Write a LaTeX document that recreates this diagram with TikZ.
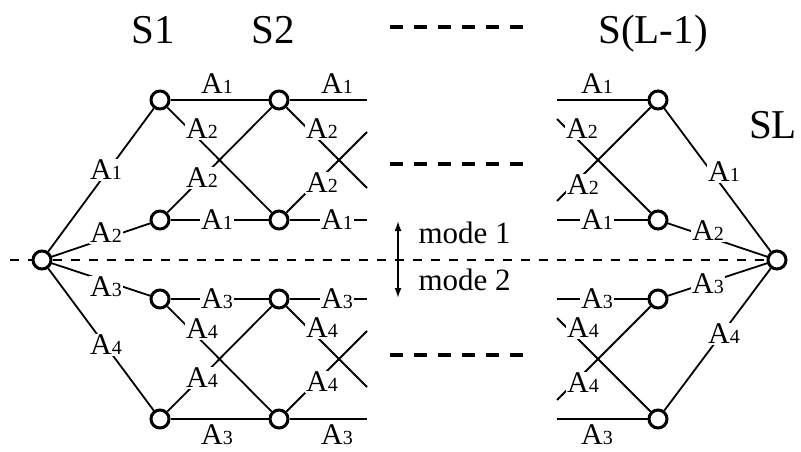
\documentclass[tikz,border=0pt]{standalone}
\usepackage{fontspec}
\setmainfont{Liberation Serif}
\usetikzlibrary{arrows.meta}
\newcommand\Alab[1]{A{\fontsize{20}{20}\selectfont #1}}
\begin{document}
\begin{tikzpicture}[x=1pt,y=-1pt,
  st/.style={circle,draw,line width=3pt,minimum size=18pt,inner sep=0pt,fill=white},
  ed/.style={line width=1.8pt},
  lab/.style={fill=white,inner sep=1.5pt,font=\fontsize{30}{30}\selectfont},
  ttl/.style={anchor=base,font=\fontsize{41}{41}\selectfont},
  mtxt/.style={anchor=base west,font=\fontsize{31}{31}\selectfont},
  gap/.style={line width=4.5pt,dash pattern=on 13pt off 11pt},
  mid/.style={line width=1.5pt,dash pattern=on 9pt off 9pt}]
\useasboundingbox (0,0) rectangle (801,452);

% states
\node[st] (L) at (42,260) {};
\node[st] (a1) at (160,100) {};
\node[st] (a2) at (160,220) {};
\node[st] (a3) at (160,299) {};
\node[st] (a4) at (160,419) {};
\node[st] (b1) at (279,100) {};
\node[st] (b2) at (279,220) {};
\node[st] (b3) at (279,299) {};
\node[st] (b4) at (279,419) {};
\node[st] (c1) at (658,100) {};
\node[st] (c2) at (658,220) {};
\node[st] (c3) at (658,299) {};
\node[st] (c4) at (658,419) {};
\node[st] (R) at (777,260) {};

% stub ends
\coordinate (bh1) at (367,100);
\coordinate (bh2) at (367,220);
\coordinate (bh3) at (367,299);
\coordinate (bh4) at (367,419);
\coordinate (bd1) at (367,188);
\coordinate (bu2) at (367,132);
\coordinate (bd3) at (367,387);
\coordinate (bu4) at (367,331);
\coordinate (ch1) at (557,100);
\coordinate (ch2) at (557,220);
\coordinate (ch3) at (557,299);
\coordinate (ch4) at (557,419);
\coordinate (cd1) at (557,201);
\coordinate (cu2) at (557,119);
\coordinate (cd3) at (557,400);
\coordinate (cu4) at (557,318);
\coordinate (dl) at (10,260);
\coordinate (ma) at (398,221);
\coordinate (mb) at (398,298);

% mode separation line
\draw[mid] (dl) -- (L);
\draw[mid] (L) -- (R);

% edges
\draw[ed] (L) -- (a1);
\draw[ed] (L) -- (a2);
\draw[ed] (L) -- (a3);
\draw[ed] (L) -- (a4);
\draw[ed] (a1) -- (b1);
\draw[ed] (a1) -- (b2);
\draw[ed] (a2) -- (b1);
\draw[ed] (a2) -- (b2);
\draw[ed] (a3) -- (b3);
\draw[ed] (a3) -- (b4);
\draw[ed] (a4) -- (b3);
\draw[ed] (a4) -- (b4);
\draw[ed] (b1) -- (bh1);
\draw[ed] (b1) -- (bd1);
\draw[ed] (b2) -- (bu2);
\draw[ed] (b2) -- (bh2);
\draw[ed] (b3) -- (bh3);
\draw[ed] (b3) -- (bd3);
\draw[ed] (b4) -- (bu4);
\draw[ed] (b4) -- (bh4);
\draw[ed] (ch1) -- (c1);
\draw[ed] (cd1) -- (c1);
\draw[ed] (cu2) -- (c2);
\draw[ed] (ch2) -- (c2);
\draw[ed] (ch3) -- (c3);
\draw[ed] (cd3) -- (c3);
\draw[ed] (cu4) -- (c4);
\draw[ed] (ch4) -- (c4);
\draw[ed] (c1) -- (R);
\draw[ed] (c2) -- (R);
\draw[ed] (c3) -- (R);
\draw[ed] (c4) -- (R);

% continuation dashes
\draw[gap] (390,27) -- (525,27);
\draw[gap] (390,164) -- (525,164);
\draw[gap] (390,355) -- (525,355);

% mode arrow
\draw[line width=1.7pt,{Latex[length=10pt,width=7pt]}-{Latex[length=10pt,width=7pt]}] (ma) -- (mb);
\node[mtxt] (m1) at (415,243) {mode 1};
\node[mtxt] (m2) at (415,290) {mode 2};

% stage titles
\node[ttl] (t1) at (153,44) {S1};
\node[ttl] (t2) at (273,44) {S2};
\node[ttl] (t3) at (653,44) {S(L-1)};
\node[ttl] (t4) at (773,138) {SL};

% branch labels
\node[lab] (l1) at (106,170) {\Alab1};
\node[lab] (l2) at (106,233) {\Alab2};
\node[lab] (l3) at (106,287) {\Alab3};
\node[lab] (l4) at (106,345) {\Alab4};

\node[lab] (p1) at (217,84) {\Alab1};
\node[lab] (p2) at (202,129) {\Alab2};
\node[lab] (p3) at (202,178) {\Alab2};
\node[lab] (p4) at (217,220) {\Alab1};
\node[lab] (p5) at (217,299) {\Alab3};
\node[lab] (p6) at (202,329) {\Alab4};
\node[lab] (p7) at (202,378) {\Alab4};
\node[lab] (p8) at (217,435) {\Alab3};

\node[lab] (q1) at (337,84) {\Alab1};
\node[lab] (q2) at (322,129) {\Alab2};
\node[lab] (q3) at (322,183) {\Alab2};
\node[lab] (q4) at (337,220) {\Alab1};
\node[lab] (q5) at (337,299) {\Alab3};
\node[lab] (q6) at (322,328) {\Alab4};
\node[lab] (q7) at (322,382) {\Alab4};
\node[lab] (q8) at (337,435) {\Alab3};

\node[lab] (r1) at (597,84) {\Alab1};
\node[lab] (r2) at (582,129) {\Alab2};
\node[lab] (r3) at (583,185) {\Alab2};
\node[lab] (r4) at (597,220) {\Alab1};
\node[lab] (r5) at (597,299) {\Alab3};
\node[lab] (r6) at (583,328) {\Alab4};
\node[lab] (r7) at (583,383) {\Alab4};
\node[lab] (r8) at (597,435) {\Alab3};

\node[lab] (k1) at (724,172) {\Alab1};
\node[lab] (k2) at (708,231) {\Alab2};
\node[lab] (k3) at (708,284) {\Alab3};
\node[lab] (k4) at (724,334) {\Alab4};
\end{tikzpicture}
\end{document}
